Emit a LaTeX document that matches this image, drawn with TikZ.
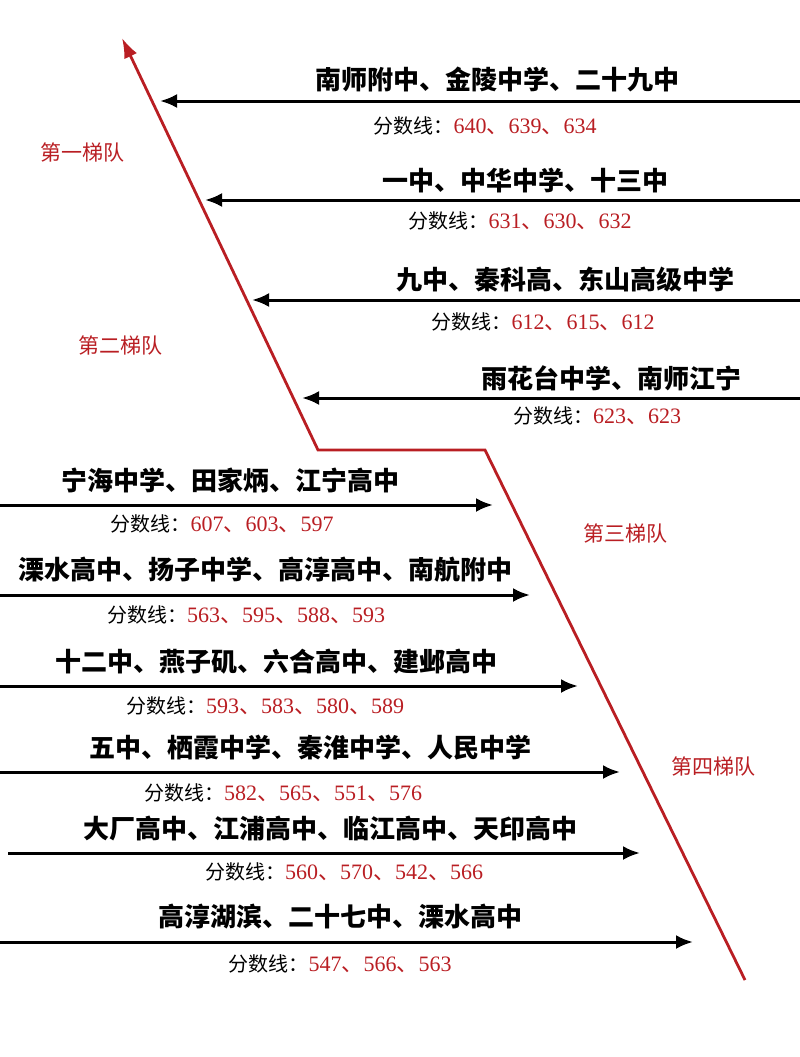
\documentclass[tikz,border=0pt]{standalone}
\usepackage{fontspec}
\setmainfont{Liberation Serif}
\newfontfamily\cjk{Noto Sans CJK SC}
\usetikzlibrary{arrows.meta}
\definecolor{tred}{RGB}{185,30,35}
\tikzset{
 arr/.style={line width=3pt,-{Latex[length=17pt,width=14pt]}},
 ttl/.style={font=\cjk\bfseries\fontsize{26}{28}\selectfont,inner sep=0pt},
 sc/.style={font=\fontsize{22}{24}\selectfont,inner sep=0pt},
 tier/.style={font=\cjk\fontsize{21}{23}\selectfont,text=tred,inner sep=0pt},
}
\newcommand{\fs}[1]{{\cjk\fontsize{20}{22}\selectfont 分数线：}\textcolor{tred}{#1}}
\newcommand{\dn}{{\cjk 、}}
\begin{document}
\begin{tikzpicture}[x=1pt,y=-1pt]
\useasboundingbox (0,0) rectangle (800,1057);
\coordinate (r0) at (745,980); \coordinate (r1) at (485,450);
\coordinate (r2) at (318,450); \coordinate (r3) at (122,38);
\draw[tred,line width=2.8pt,line join=miter,-{Latex[length=20pt,width=14pt]}] (r0)--(r1)--(r2)--(r3);
\foreach \i/\y/\t in {1/101/160,2/200/205,3/300/252,4/398/302}{
 \coordinate (s\i) at (800,\y); \coordinate (e\i) at (\t,\y);
 \draw[arr] (s\i)--(e\i);}
\node[ttl] (t1) at (497,79) {南师附中、金陵中学、二十九中};
\node[sc] (f1) at (485,126) {\fs{640\dn 639\dn  634}};
\node[ttl] (t2) at (525,180) {一中、中华中学、十三中};
\node[sc] (f2) at (520,221) {\fs{631\dn 630\dn  632}};
\node[ttl] (t3) at (565,280) {九中、秦科高、东山高级中学};
\node[sc] (f3) at (543,322) {\fs{612\dn 615\dn  612}};
\node[ttl] (t4) at (611,378) {雨花台中学、南师江宁};
\node[sc] (f4) at (597,416) {\fs{623\dn 623}};
\foreach \i/\y/\sx/\t in {5/505/0/493,6/595/0/530,7/686/0/578,8/772/0/620,9/853/8/640,10/942/0/693}{
 \coordinate (s\i) at (\sx,\y); \coordinate (e\i) at (\t,\y);
 \draw[arr] (s\i)--(e\i);}
\node[ttl] (t5) at (230,480) {宁海中学、田家炳、江宁高中};
\node[sc] (f5) at (222,524) {\fs{607\dn 603\dn  597}};
\node[ttl] (t6) at (265,570) {溧水高中、扬子中学、高淳高中、南航附中};
\node[sc] (f6) at (246,615) {\fs{563\dn 595\dn 588\dn 593}};
\node[ttl] (t7) at (276,662) {十二中、燕子矶、六合高中、建邺高中};
\node[sc] (f7) at (265,706) {\fs{593\dn 583\dn  580\dn 589}};
\node[ttl] (t8) at (310,748) {五中、栖霞中学、秦淮中学、人民中学};
\node[sc] (f8) at (283,793) {\fs{582\dn 565\dn  551\dn 576}};
\node[ttl] (t9) at (330,829) {大厂高中、江浦高中、临江高中、天印高中};
\node[sc] (f9) at (344,872) {\fs{560\dn 570\dn  542\dn 566}};
\node[ttl] (t10) at (340,917) {高淳湖滨、二十七中、溧水高中};
\node[sc] (f10) at (340,964) {\fs{547\dn 566\dn 563}};
\node[tier] (q1) at (82,152) {第一梯队};
\node[tier] (q2) at (120,345) {第二梯队};
\node[tier] (q3) at (625,533) {第三梯队};
\node[tier] (q4) at (713,766) {第四梯队};
\end{tikzpicture}
\end{document}
